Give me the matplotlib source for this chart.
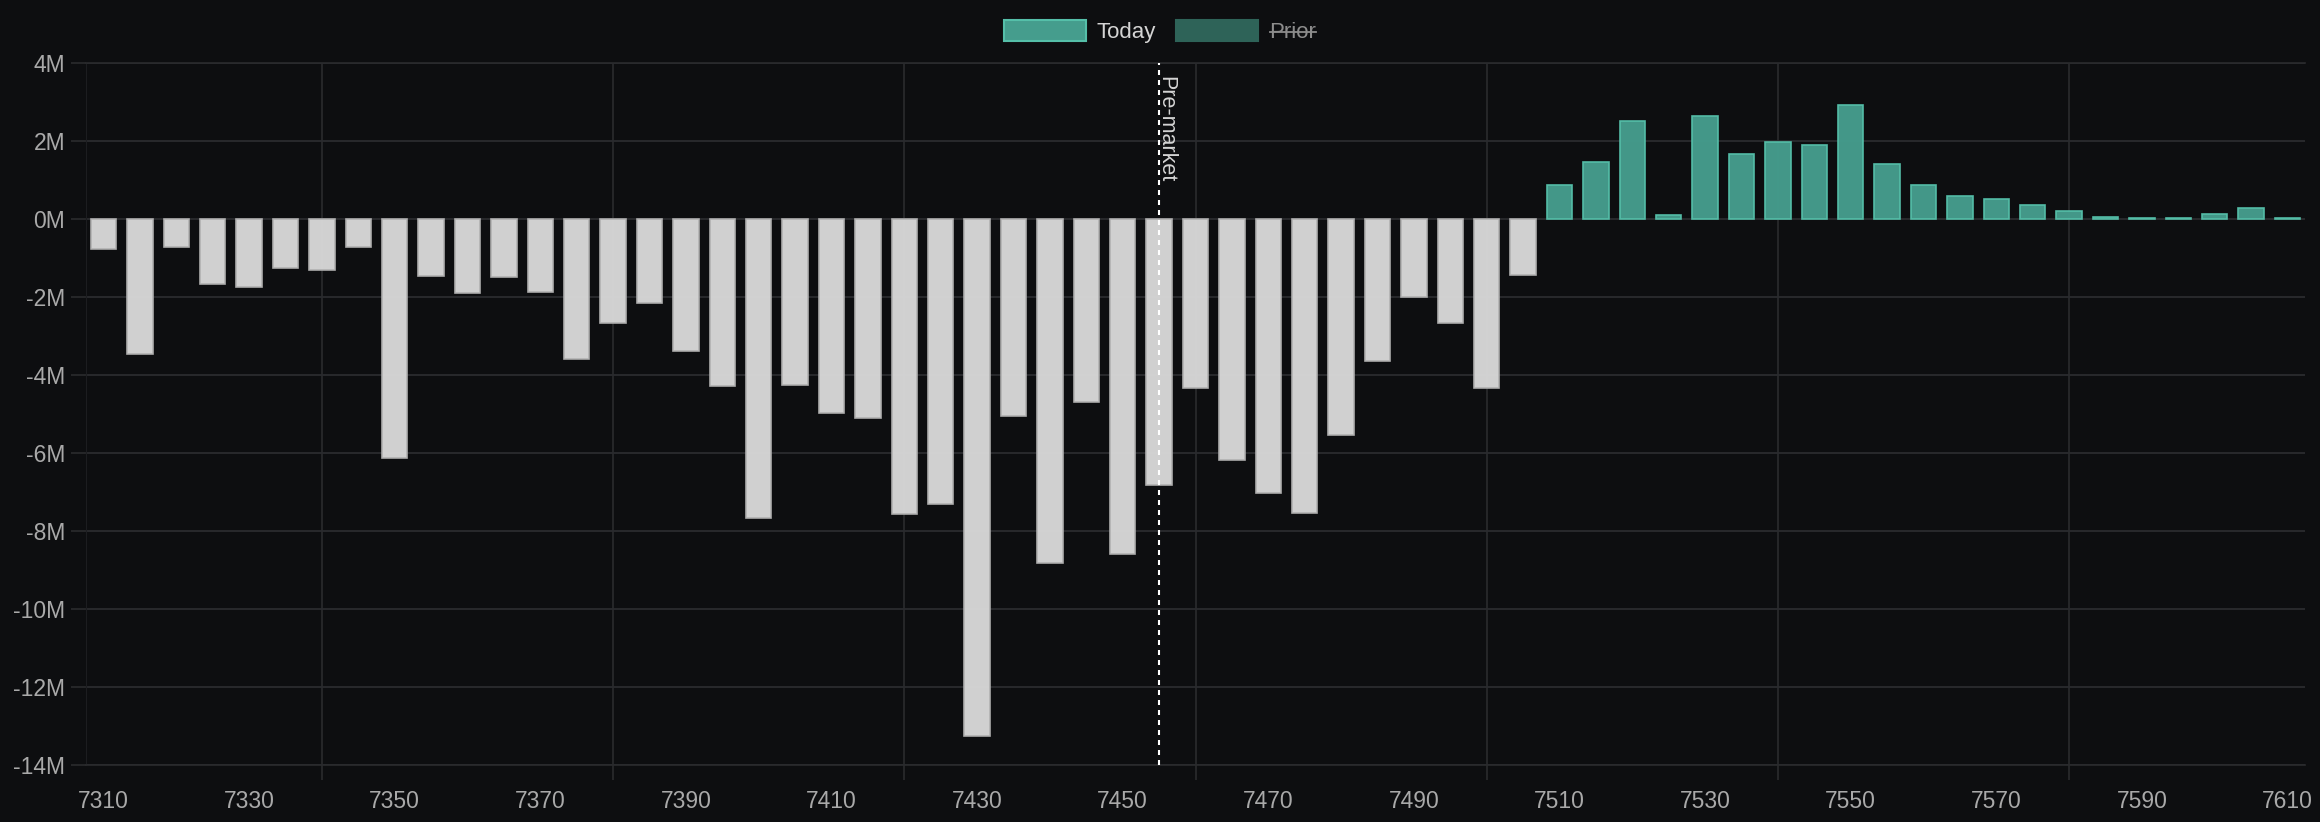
import numpy as np
import matplotlib
matplotlib.use('Agg')
import matplotlib.pyplot as plt
from matplotlib.patches import Patch
from matplotlib.lines import Line2D
from matplotlib.transforms import blended_transform_factory

# strikes, one bar every 5 points
strikes = np.arange(7310, 7615, 5)
# today's values, in millions
today = [-0.76, -3.46, -0.71, -1.66, -1.74, -1.25, -1.30, -0.71, -6.13, -1.46,
         -1.89, -1.48, -1.87, -3.59, -2.66, -2.15, -3.38, -4.28, -7.67, -4.26,
         -4.97, -5.10, -7.57, -7.31, -13.26, -5.05, -8.83, -4.69, -8.60, -6.83,
         -4.33, -6.18, -7.02, -7.54, -5.54, -3.64, -2.00, -2.66, -4.33, -1.43,
         0.86, 1.47, 2.51, 0.09, 2.64, 1.66, 1.97, 1.91, 2.92, 1.40,
         0.86, 0.60, 0.52, 0.37, 0.21, 0.06, 0.03, 0.03, 0.14, 0.29, 0.03]
x_labels = np.arange(7310, 7611, 20)
x_grid = np.arange(7340, 7600, 40)
y_ticks = np.arange(-14, 5, 2)
premarket = 7455

bg = '#0d0e10'
grid_c = '#2a2b2e'
teal = '#459d8d'
teal_edge = '#55bfa9'
grey = '#d8d8d8'
grey_edge = '#b0b0b0'

plt.rcParams['font.family'] = ['Liberation Sans', 'DejaVu Sans']

fig = plt.figure(figsize=(23.2, 8.22), dpi=100, facecolor=bg)
ax = fig.add_axes([86 / 2320, 1 - 765 / 822, (2305 - 86) / 2320, (765 - 63) / 822])
ax.set_facecolor(bg)

face = [teal if v >= 0 else grey for v in today]
edge = [teal_edge if v >= 0 else grey_edge for v in today]
ax.bar(strikes, today, width=3.5, color=face, edgecolor=edge, linewidth=1.2, zorder=3, alpha=0.97)

ax.set_xlim(7307.6, 7612.4)
ax.set_ylim(-14, 4)

# y axis
ax.set_yticks(y_ticks)
ax.set_yticklabels(['%dM' % v for v in y_ticks])
ax.tick_params(axis='y', length=11, width=1.2, color=grid_c, labelcolor='#a9a9a9',
               labelsize=16.5, pad=4)
ax.grid(axis='y', color=grid_c, linewidth=1.3, zorder=0)

# x axis
ax.set_xticks(x_labels)
ax.set_xticklabels([str(v) for v in x_labels])
ax.set_xticks(x_grid, minor=True)
ax.tick_params(axis='x', which='major', length=0, labelcolor='#a9a9a9', labelsize=16.5, pad=18)
ax.tick_params(axis='x', which='minor', length=11, width=1.2, color=grid_c)
ax.grid(axis='x', which='minor', color=grid_c, linewidth=1.2, zorder=0)

for s in ['top', 'bottom']:
    ax.spines[s].set_color(grid_c)
    ax.spines[s].set_linewidth(1.2)
ax.spines['left'].set_color('#1c1d20')
ax.spines['right'].set_visible(False)

# pre-market marker
ax.axvline(premarket, color='white', linestyle=(0, (2.4, 2.4)), linewidth=1.5, zorder=4)
trans = blended_transform_factory(ax.transData, ax.transAxes)
ax.text(premarket - 0.5, 0.982, 'Pre-market', rotation=-90, ha='left', va='top',
        transform=trans, color='#d4d4d4', fontsize=15.5, zorder=5)

# legend, prior is hidden
handles = [Patch(facecolor=teal, edgecolor=teal_edge, linewidth=1.5),
           Patch(facecolor='#2e6358', edgecolor='#2e6358', linewidth=1.5)]
leg = fig.legend(handles, ['Today', 'Prior'], loc='center', bbox_to_anchor=(0.5, 1 - 31.5 / 822),
                 ncol=2, frameon=False, fontsize=16, handlelength=3.7, handleheight=1.1,
                 handletextpad=0.5, columnspacing=0.9, borderpad=0)
txts = leg.get_texts()
txts[0].set_color('#d4d4d4')
txts[1].set_color('#8c8c8c')

# strike through 'Prior'
fig.canvas.draw()
bb = txts[1].get_window_extent()
ys = 822 - 32
fig.add_artist(Line2D([bb.x0, bb.x1], [ys, ys], transform=None, color='#8c8c8c', linewidth=1.3))

fig.savefig('out.png', dpi=100, facecolor=bg)
